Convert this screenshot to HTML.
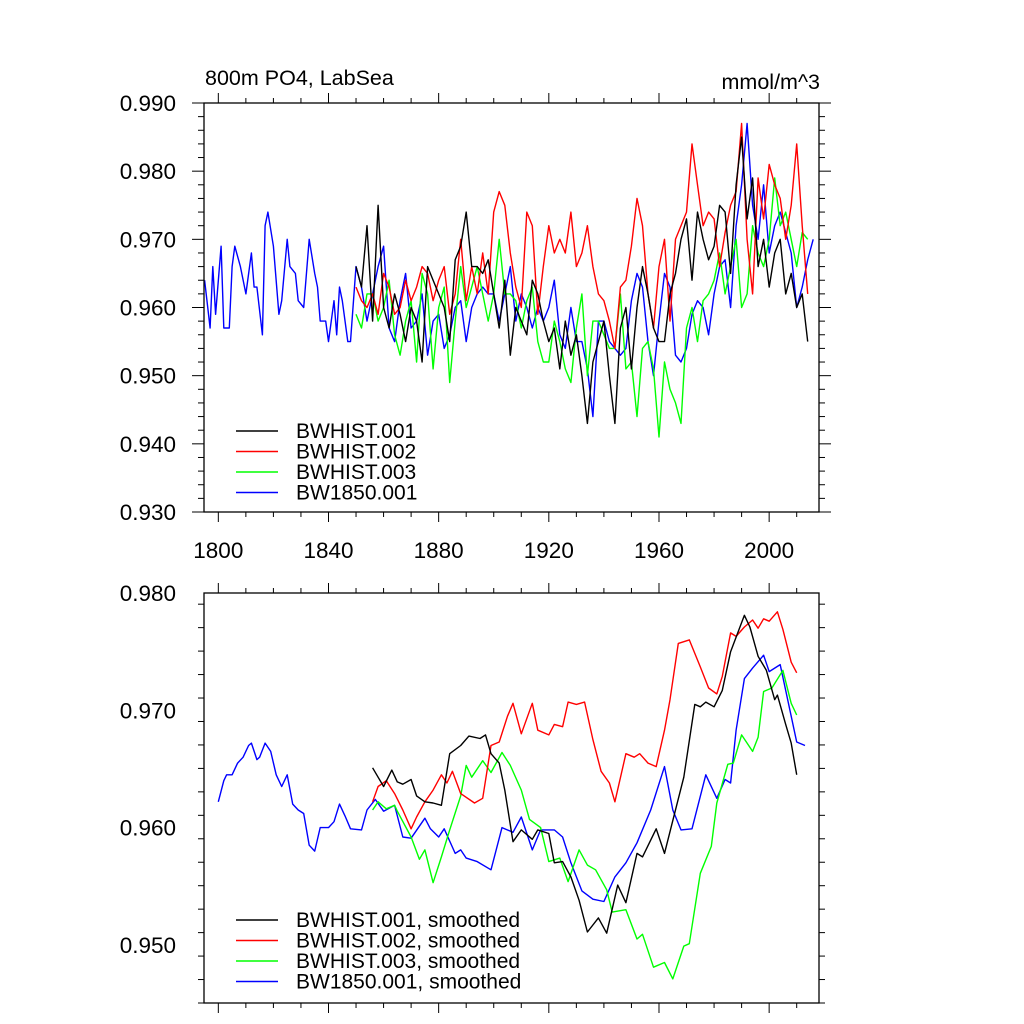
<!DOCTYPE html>
<html><head><meta charset="utf-8"><style>
html,body{margin:0;padding:0;background:#fff}
svg{display:block;font-family:"Liberation Sans",sans-serif}
</style></head><body>
<svg id="c" width="1024" height="1024" viewBox="0 0 1024 1024"></svg>
<script>
// ---- data: top panel (annual, sampled) ----
const b1850Years=[1795,1797,1798,1799,1801,1802,1804,1805,1806,1808,1810,1812,1813,1814,1816,1817,1818,1820,1822,1823,1825,1826,1828,1829,1831,1833,1835,1836,1837,1839,1840,1842,1843,1844,1845,1847,1848,1850,1852,1854,1856,1858,1860,1862,1864,1866,1868,1870,1872,1874,1876,1878,1880,1882,1884,1886,1888,1890,1892,1894,1896,1898,1900,1902,1904,1906,1908,1910,1912,1914,1916,1918,1920,1922,1924,1926,1928,1930,1932,1934,1936,1938,1940,1942,1944,1946,1948,1950,1952,1954,1956,1958,1960,1962,1964,1966,1968,1970,1972,1974,1976,1978,1980,1982,1984,1986,1988,1990,1992,1994,1996,1998,2000,2002,2004,2006,2008,2010,2012,2014,2016];
const b1850Vals=[0.964,0.957,0.966,0.959,0.969,0.957,0.957,0.966,0.969,0.966,0.962,0.968,0.963,0.963,0.956,0.972,0.974,0.969,0.959,0.961,0.970,0.966,0.965,0.961,0.960,0.970,0.965,0.963,0.958,0.958,0.955,0.961,0.956,0.963,0.961,0.955,0.955,0.966,0.963,0.958,0.962,0.966,0.969,0.957,0.955,0.961,0.965,0.957,0.958,0.962,0.953,0.958,0.959,0.954,0.956,0.960,0.961,0.955,0.960,0.962,0.963,0.962,0.962,0.958,0.962,0.966,0.958,0.962,0.960,0.957,0.960,0.958,0.960,0.964,0.956,0.954,0.960,0.955,0.955,0.951,0.944,0.958,0.958,0.955,0.954,0.953,0.954,0.961,0.965,0.963,0.955,0.950,0.958,0.965,0.963,0.953,0.952,0.954,0.959,0.961,0.960,0.956,0.962,0.966,0.967,0.960,0.972,0.978,0.987,0.975,0.970,0.978,0.968,0.972,0.974,0.971,0.968,0.960,0.963,0.967,0.970];
const histYears=[1850,1852,1854,1856,1858,1860,1862,1864,1866,1868,1870,1872,1874,1876,1878,1880,1882,1884,1886,1888,1890,1892,1894,1896,1898,1900,1902,1904,1906,1908,1910,1912,1914,1916,1918,1920,1922,1924,1926,1928,1930,1932,1934,1936,1938,1940,1942,1944,1946,1948,1950,1952,1954,1956,1958,1960,1962,1964,1966,1968,1970,1972,1974,1976,1978,1980,1982,1984,1986,1988,1990,1992,1994,1996,1998,2000,2002,2004,2006,2008,2010,2012,2014];
const h001Vals=[0.966,0.963,0.972,0.958,0.975,0.960,0.957,0.962,0.959,0.955,0.960,0.958,0.952,0.966,0.964,0.962,0.960,0.955,0.967,0.969,0.974,0.966,0.966,0.965,0.967,0.962,0.957,0.964,0.953,0.960,0.958,0.956,0.964,0.962,0.958,0.955,0.957,0.951,0.958,0.953,0.956,0.950,0.943,0.952,0.955,0.958,0.950,0.943,0.957,0.960,0.951,0.960,0.966,0.962,0.957,0.955,0.955,0.962,0.965,0.970,0.973,0.964,0.974,0.970,0.967,0.969,0.975,0.974,0.965,0.978,0.985,0.973,0.979,0.966,0.970,0.963,0.968,0.970,0.962,0.965,0.960,0.962,0.955];
const h002Vals=[0.963,0.961,0.960,0.962,0.959,0.965,0.963,0.959,0.960,0.964,0.961,0.963,0.966,0.965,0.961,0.964,0.966,0.959,0.962,0.970,0.961,0.966,0.962,0.968,0.962,0.974,0.977,0.975,0.968,0.963,0.960,0.974,0.972,0.959,0.966,0.972,0.968,0.970,0.968,0.974,0.966,0.968,0.972,0.966,0.962,0.961,0.958,0.954,0.963,0.964,0.969,0.976,0.972,0.962,0.957,0.966,0.970,0.958,0.970,0.972,0.974,0.984,0.978,0.972,0.974,0.973,0.966,0.971,0.975,0.977,0.987,0.970,0.962,0.979,0.973,0.981,0.978,0.976,0.970,0.975,0.984,0.972,0.962];
const h003Vals=[0.959,0.957,0.962,0.962,0.958,0.960,0.964,0.956,0.953,0.958,0.961,0.952,0.965,0.962,0.951,0.960,0.963,0.949,0.958,0.966,0.960,0.963,0.966,0.962,0.958,0.962,0.970,0.962,0.962,0.961,0.957,0.961,0.963,0.955,0.952,0.952,0.958,0.955,0.951,0.949,0.957,0.962,0.950,0.958,0.958,0.956,0.954,0.954,0.962,0.951,0.952,0.944,0.954,0.955,0.951,0.941,0.952,0.948,0.946,0.943,0.957,0.960,0.955,0.961,0.962,0.964,0.968,0.962,0.966,0.970,0.960,0.962,0.972,0.968,0.966,0.970,0.979,0.972,0.974,0.970,0.966,0.971,0.970];
// ---- data: bottom panel (smoothed) ----
const s001Years=[1856,1858,1860,1863,1865,1867,1870,1872,1875,1878,1881,1884,1888,1891,1895,1897,1899,1902,1904,1907,1910,1914,1916,1920,1922,1925,1928,1931,1934,1938,1941,1945,1948,1952,1954,1959,1962,1965,1969,1973,1975,1977,1980,1983,1986,1991,1993,1996,1999,2002,2003,2006,2008,2010];
const s001Vals=[0.9651,0.9643,0.9635,0.9649,0.9639,0.9637,0.9641,0.9627,0.9622,0.9621,0.9619,0.9663,0.9670,0.9678,0.9676,0.9679,0.9663,0.9655,0.9632,0.9588,0.9598,0.9590,0.9598,0.9595,0.9570,0.9571,0.9558,0.9538,0.9511,0.9523,0.9510,0.9551,0.9536,0.9578,0.9575,0.9599,0.9578,0.9606,0.9643,0.9705,0.9703,0.9707,0.9703,0.9717,0.9750,0.9781,0.9771,0.9746,0.9734,0.9709,0.9713,0.9688,0.9672,0.9645];
const s002Years=[1856,1858,1861,1864,1867,1870,1872,1875,1878,1881,1883,1885,1888,1893,1896,1899,1902,1905,1907,1910,1914,1916,1920,1922,1925,1927,1930,1933,1936,1939,1942,1944,1948,1951,1953,1956,1959,1962,1964,1967,1971,1975,1978,1981,1983,1986,1988,1991,1994,1996,1998,2000,2003,2005,2008,2010];
const s002Vals=[0.9622,0.9635,0.9640,0.9629,0.9615,0.9599,0.9609,0.9622,0.9632,0.9645,0.9638,0.9648,0.9629,0.9621,0.9625,0.9670,0.9673,0.9695,0.9706,0.9680,0.9706,0.9683,0.9679,0.9688,0.9686,0.9707,0.9705,0.9707,0.9675,0.9648,0.9638,0.9622,0.9663,0.9660,0.9663,0.9655,0.9652,0.9683,0.9709,0.9757,0.9760,0.9737,0.9719,0.9714,0.9729,0.9766,0.9763,0.9771,0.9777,0.9770,0.9778,0.9776,0.9784,0.9769,0.9741,0.9732];
const s003Years=[1856,1858,1861,1864,1865,1870,1873,1875,1878,1881,1884,1888,1890,1892,1896,1899,1903,1906,1910,1913,1917,1920,1924,1927,1931,1934,1937,1941,1943,1948,1952,1954,1958,1962,1965,1969,1971,1975,1979,1981,1985,1987,1990,1994,1996,1998,2001,2005,2008,2010];
const s003Vals=[0.9615,0.9622,0.9616,0.9619,0.9614,0.9592,0.9573,0.9581,0.9553,0.9575,0.9598,0.9627,0.9653,0.9643,0.9657,0.9647,0.9664,0.9653,0.9632,0.9607,0.9600,0.9571,0.9574,0.9554,0.9581,0.9568,0.9564,0.9547,0.9528,0.9530,0.9505,0.9509,0.9481,0.9485,0.9471,0.9499,0.9501,0.9561,0.9584,0.9621,0.9654,0.9655,0.9679,0.9665,0.9677,0.9716,0.9719,0.9734,0.9706,0.9696];
const sb1850Years=[1800,1802,1803,1805,1807,1809,1811,1812,1814,1815,1817,1819,1821,1823,1825,1827,1829,1831,1833,1835,1837,1840,1842,1844,1846,1848,1852,1854,1857,1860,1864,1867,1870,1875,1877,1880,1882,1886,1888,1890,1894,1899,1903,1907,1910,1914,1917,1922,1925,1928,1932,1936,1940,1944,1948,1952,1957,1962,1965,1968,1972,1977,1981,1984,1986,1988,1991,1994,1998,2000,2004,2008,2010,2013];
const sb1850Vals=[0.9622,0.9640,0.9645,0.9645,0.9655,0.9660,0.9670,0.9672,0.9658,0.9660,0.9672,0.9665,0.9645,0.9635,0.9645,0.9620,0.9615,0.9612,0.9585,0.9580,0.9600,0.9600,0.9605,0.9620,0.9610,0.9599,0.9598,0.9615,0.9624,0.9614,0.9619,0.9592,0.9591,0.9608,0.9599,0.9592,0.9599,0.9578,0.9581,0.9574,0.9571,0.9564,0.9600,0.9596,0.9609,0.9581,0.9598,0.9598,0.9592,0.9570,0.9546,0.9539,0.9537,0.9558,0.9570,0.9587,0.9615,0.9652,0.9615,0.9598,0.9599,0.9645,0.9625,0.9641,0.9638,0.9683,0.9727,0.9736,0.9747,0.9733,0.9739,0.9695,0.9673,0.9670];
const topYTicks=[0.930,0.940,0.950,0.960,0.970,0.980,0.990];
const topYLabels=["0.930","0.940","0.950","0.960","0.970","0.980","0.990"];
const botYTicks=[0.950,0.960,0.970,0.980];
const botYLabels=["0.950","0.960","0.970","0.980"];
const xTicks=[1800,1840,1880,1920,1960,2000];
const xLabels=["1800","1840","1880","1920","1960","2000"];
const colors={h1:"#000000",h2:"#ff0000",h3:"#00ff00",b:"#0000ff"};

const NS="http://www.w3.org/2000/svg";
const svg=document.getElementById('c');
function mk(tag,attrs,parent){const e=document.createElementNS(NS,tag);for(const k in attrs)e.setAttribute(k,attrs[k]);(parent||svg).appendChild(e);return e;}
const L=204,R=819,X0=1794.8,X1=2018.1;
function xs(yr){return L+(yr-X0)/(X1-X0)*(R-L);}

function panel(name,top,bot,ymin,ymax,ticks,labels,minorStep,series,legend,legY,showX){
  const g=mk('g',{});
  
  
  const ys=v=>bot-(v-ymin)/(ymax-ymin)*(bot-top);
  series.forEach(s=>{
    const d=s.years.map((y,i)=>(i?'L':'M')+xs(y).toFixed(1)+','+ys(s.vals[i]).toFixed(1)).join('');
    const p=mk('path',{d:d,fill:'none',stroke:s.color,'stroke-width':1.4,'stroke-linejoin':'round'},g);
    
    
  });
  const f=mk('rect',{x:L,y:top,width:R-L,height:bot-top,fill:'none',stroke:'#000','stroke-width':1.3},g);
  
  
  const nMin=Math.round((ymax-ymin)/minorStep);
  for(let i=0;i<=nMin;i++){const v=ymin+i*minorStep;const y=ys(v);
    const major=ticks.some(t=>Math.abs(t-v)<1e-6);const len=major?12:6;
    mk('line',{x1:L,x2:L-len,y1:y,y2:y,stroke:'#000','stroke-width':1},g);
    mk('line',{x1:R,x2:R+len,y1:y,y2:y,stroke:'#000','stroke-width':1},g);}
  ticks.forEach((t,i)=>{const tx=mk('text',{x:176,y:ys(t)+8,'text-anchor':'end','font-size':22.5},g);tx.textContent=labels[i];
    
    });
  for(let yr=1800;yr<=2010;yr+=10){const x=xs(yr);const major=xTicks.includes(yr);const len=major?10:5;
    mk('line',{x1:x,x2:x,y1:bot,y2:bot+len,stroke:'#000','stroke-width':1},g);
    mk('line',{x1:x,x2:x,y1:top,y2:top-len,stroke:'#000','stroke-width':1},g);}
  if(showX){xTicks.forEach((t,i)=>{const tx=mk('text',{x:xs(t),y:bot+46,'text-anchor':'middle','font-size':22.5},g);tx.textContent=xLabels[i];
    
    });}
  legend.forEach((l,i)=>{const y=legY+i*20.5;
    const e=mk('g',{},g);
    
    
    mk('line',{x1:236,x2:278,y1:y,y2:y,stroke:l.color,'stroke-width':1.4},e);
    const t=mk('text',{x:296,y:y+7,'font-size':21},e);t.textContent=l.label;});
}

panel('top-panel',103,512,0.93,0.99,topYTicks,topYLabels,0.002,[
 {name:'series-bw1850-001',years:b1850Years,vals:b1850Vals,color:colors.b},
 {name:'series-bwhist-003',years:histYears,vals:h003Vals,color:colors.h3},
 {name:'series-bwhist-002',years:histYears,vals:h002Vals,color:colors.h2},
 {name:'series-bwhist-001',years:histYears,vals:h001Vals,color:colors.h1}
],[{label:'BWHIST.001',color:colors.h1},{label:'BWHIST.002',color:colors.h2},{label:'BWHIST.003',color:colors.h3},{label:'BW1850.001',color:colors.b}],431,true);

panel('bottom-panel',593,1003,0.98-410/11730,0.98,botYTicks,botYLabels,0.002,[
 {name:'series-bw1850-001-smoothed',years:sb1850Years,vals:sb1850Vals,color:colors.b},
 {name:'series-bwhist-003-smoothed',years:s003Years,vals:s003Vals,color:colors.h3},
 {name:'series-bwhist-002-smoothed',years:s002Years,vals:s002Vals,color:colors.h2},
 {name:'series-bwhist-001-smoothed',years:s001Years,vals:s001Vals,color:colors.h1}
],[{label:'BWHIST.001, smoothed',color:colors.h1},{label:'BWHIST.002, smoothed',color:colors.h2},{label:'BWHIST.003, smoothed',color:colors.h3},{label:'BW1850.001, smoothed',color:colors.b}],920,false);

const t1=mk('text',{x:205,y:85,'font-size':21.5});t1.textContent='800m PO4, LabSea';


const t2=mk('text',{x:820,y:89,'font-size':21.5,'text-anchor':'end'});t2.textContent='mmol/m^3';


</script>
</body></html>
